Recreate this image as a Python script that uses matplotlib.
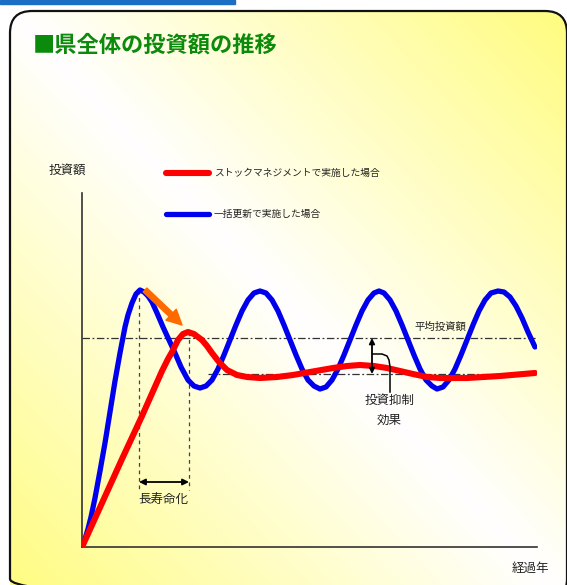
import matplotlib.pyplot as plt
import numpy as np
from matplotlib.patches import FancyBboxPatch, Rectangle

plt.rcParams['font.family'] = ['Noto Sans CJK JP', 'DejaVu Sans']

# schematic values (x: years elapsed, y: investment, arbitrary units)
blue_x = [0, 3, 6, 9, 13, 18, 23, 28, 33, 38, 43, 46, 50, 54, 58, 62, 66, 70, 75, 81, 87, 93, 99,
          106, 112, 118, 124, 130, 136, 142, 148, 154, 160, 166, 172, 178, 184, 190, 196, 202, 208,
          214, 220, 226, 232, 238, 244, 250, 256, 262, 268, 274, 280, 286, 292, 297, 302, 308, 314,
          320, 326, 332, 338, 344, 350, 355, 361, 367, 373, 379, 385, 391, 397, 403, 409, 416, 422,
          428, 434, 440, 446, 453]
blue_y = [0, 8, 18, 30, 49, 76, 104, 135, 166, 194, 220, 232, 244, 253, 257, 255, 251, 245, 234,
          220, 207, 194, 180, 167, 161, 159, 161, 167, 178, 192, 207, 222, 236, 247, 254, 256, 254,
          247, 236, 222, 207, 192, 178, 167, 161, 158, 160, 167, 178, 192, 207, 222, 236, 247, 254,
          256, 254, 247, 236, 222, 207, 192, 178, 167, 161, 158, 160, 167, 178, 192, 207, 222, 236,
          247, 254, 256, 255, 250, 241, 229, 215, 200]
red_x = [0, 20, 40, 60, 80, 86, 90, 96, 101, 106, 112, 120, 125, 130, 137, 145, 155, 165, 178, 195,
         211, 228, 251, 265, 278, 292, 305, 318, 331, 345, 358, 385, 418, 453]
red_y = [0, 44, 88, 131, 176, 188, 195, 207, 213, 215, 213, 207, 201, 194, 185, 177, 172, 170, 169,
         170, 172, 175, 179, 181, 182, 181, 179, 176, 173, 170, 169, 169, 171, 174]
avg_level = 209
reduced_level = 173
blue_peak_x = 57
red_peak_x = 107
effect_x = 290

labels = ['ストックマネジメントで実施した場合', '一括更新で実施した場合']
title = '■県全体の投資額の推移'

W, H = 567, 585
fig = plt.figure(figsize=(W / 100, H / 100), dpi=100)

# background: rounded frame with diagonal yellow gradient
bg = fig.add_axes([0, 0, 1, 1])
bg.set_xlim(0, W)
bg.set_ylim(H, 0)
bg.axis('off')
gx, gy = np.meshgrid(np.linspace(0, 1, 300), np.linspace(0, 1, 300))
u = np.clip(np.abs(gx - gy), 0, 1)
img = np.ones((300, 300, 3))
img[..., 2] = 1 - 0.5 * u
img[..., 1] = 1 - 0.01 * u
frame = FancyBboxPatch((10, 11), 557, 590, boxstyle='round,pad=0,rounding_size=22',
                       facecolor='none', edgecolor='#111111', lw=1.6, zorder=3)
bg.add_patch(frame)
im = bg.imshow(img, extent=(10, 567, 601, 11), aspect='auto', zorder=1)
im.set_clip_path(frame)
bg.add_patch(Rectangle((0, 0), 235, 3.5, color='#1a6fc4', zorder=4))
bg.text(33, 45, title, fontsize=16, fontweight='bold', color='#0b8a0b', va='center', ha='left')

ax = fig.add_axes([82 / W, 1 - 547 / H, 455 / W, 354 / H])
ax.set_xlim(0, 455)
ax.set_ylim(0, 354)
ax.patch.set_alpha(0)
for side in ['top', 'right']:
    ax.spines[side].set_visible(False)
for side in ['left', 'bottom']:
    ax.spines[side].set_color('#333333')
    ax.spines[side].set_linewidth(1.2)
ax.set_xticks([])
ax.set_yticks([])

dashdot = (0, (6, 2, 1.5, 2))
ax.plot([0, 455], [avg_level, avg_level], color='#333333', lw=0.9, ls=dashdot, zorder=1)
ax.plot([126, 455], [reduced_level, reduced_level], color='#333333', lw=0.9, ls=dashdot, zorder=1)
ax.plot([blue_peak_x, blue_peak_x], [257, 57], color='#444444', lw=0.9, ls=(0, (3, 3)), zorder=1)
ax.plot([red_peak_x, red_peak_x], [215, 57], color='#444444', lw=0.9, ls=(0, (3, 3)), zorder=1)

ax.plot(blue_x, blue_y, color='#0000ee', lw=3.8, solid_joinstyle='round', solid_capstyle='round',
        zorder=3, label=labels[1])
ax.plot(red_x, red_y, color='#ff0000', lw=4.4, solid_joinstyle='round', solid_capstyle='round',
        zorder=4, label=labels[0])

h, l = ax.get_legend_handles_labels()
ax.legend(h[::-1], l[::-1], loc='upper left', bbox_to_anchor=(166 / W, 1 - 168 / H),
          bbox_transform=fig.transFigure, frameon=False, fontsize=7, handlelength=4.4,
          handletextpad=0.5, labelspacing=3.2, borderpad=0, borderaxespad=0,
          labelcolor='#222222')

ax.annotate('', xy=(100, 222), xytext=(63, 257),
            arrowprops=dict(arrowstyle='simple,head_length=0.9,head_width=0.9,tail_width=0.32',
                            color='#ff6a00', mutation_scale=12, shrinkA=0, shrinkB=0), zorder=5)
ax.annotate('', xy=(red_peak_x, 65), xytext=(blue_peak_x, 65),
            arrowprops=dict(arrowstyle='<|-|>', color='black', lw=1.3, mutation_scale=9,
                            shrinkA=0, shrinkB=0))
ax.annotate('', xy=(effect_x, reduced_level), xytext=(effect_x, avg_level),
            arrowprops=dict(arrowstyle='<|-|>', color='black', lw=1.3, mutation_scale=8,
                            shrinkA=0, shrinkB=0), zorder=6)
ax.plot([291, 300, 305, 307, 308, 308], [193, 193, 191, 187, 180, 155], color='black', lw=1.1,
        zorder=6)

ax.text(81, 47, '長寿命化', fontsize=9, color='#222222', ha='center', va='center')
ax.text(308, 147, '投資抑制', fontsize=9, color='#222222', ha='center', va='center')
ax.text(307, 127, '効果', fontsize=9, color='#222222', ha='center', va='center')
ax.text(358, 220, '平均投資額', fontsize=7.5, color='#222222', ha='center', va='center')

fig.text(67 / W, 1 - 170 / H, '投資額', fontsize=9, color='#222222', ha='center', va='center')
fig.text(530 / W, 1 - 568 / H, '経過年', fontsize=9, color='#222222', ha='center', va='center')

fig.savefig('out.png', dpi=100)
